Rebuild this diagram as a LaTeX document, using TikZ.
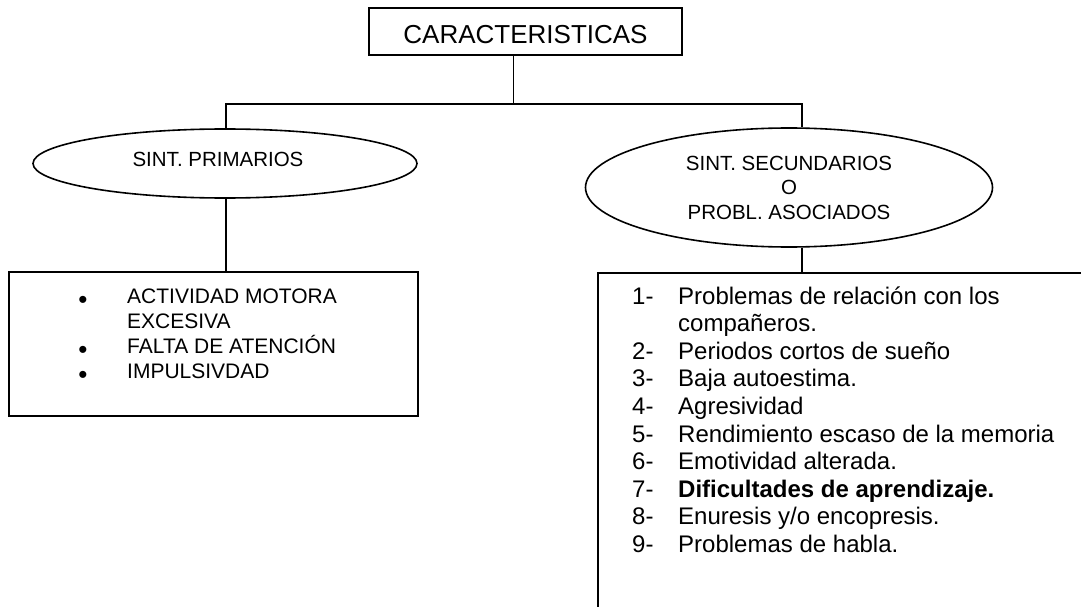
\documentclass[tikz,border=0pt]{standalone}
\usepackage{fontspec}
\setmainfont{Liberation Sans}
\usetikzlibrary{shapes.geometric}
\begin{document}
\begin{tikzpicture}[x=1pt,y=-1pt,
  line/.style={line width=1.6pt},
  box/.style={draw,line width=1.6pt,rectangle,inner sep=0pt},
  oval/.style={draw,line width=1.6pt,ellipse,inner sep=0pt},
  ovaltext/.style={font=\fontsize{20.5}{24.5}\selectfont},
  litem/.style={anchor=base west,inner sep=0pt,font=\fontsize{21}{24.5}\selectfont},
  lbullet/.style={anchor=base,inner sep=0pt,font=\fontsize{26}{26}\selectfont},
  ritem/.style={anchor=base west,inner sep=0pt,font=\fontsize{24}{27.6}\selectfont}]
\useasboundingbox (0,0) rectangle (1081,607);
\clip (0,0) rectangle (1081,607);
\fill[white] (0,0) rectangle (1081,607);

% title
\node[box,minimum width=313pt,minimum height=47pt,
      font=\fontsize{26}{30}\selectfont,text height=24pt,text depth=0pt]
  (title) at (525.5,31.5) {CARACTERISTICAS};

% ellipses
\node[oval,ovaltext,minimum width=384pt,minimum height=69pt,
      text height=14.7pt,text depth=9.7pt]
  (elL) at (225,163.5) {SINT. PRIMARIOS\hspace*{14pt}};
\node[oval,ovaltext,align=center,minimum width=407pt,minimum height=119pt]
  (elR) at (789,187.5) {SINT. SECUNDARIOS\\O\\PROBL. ASOCIADOS};

% boxes
\node[box,minimum width=409pt,minimum height=144pt] (boxL) at (213.5,344) {};
\node[box,anchor=north west,minimum width=600pt,minimum height=400pt] (boxR) at (597,272) {};

% junctions
\coordinate (jT) at (513.5,104);
\coordinate (jL) at (226,104);
\coordinate (jR) at (802,104);

% connectors
\draw[line] (jT |- title.south) -- (jT);
\draw[line] (jL |- elL.north) -- (jL) -- (jR) -- (jR |- elR.north);
\draw[line] (jL |- elL.south) -- (jL |- boxL.north);
\draw[line] (jR |- elR.south) -- (jR |- boxR.north);

% left list
\node[lbullet] (b1) at (83,308.5) {•};
\node[litem] (l1) at (127,303) {ACTIVIDAD MOTORA};
\node[litem] (l1b) at (127,328) {EXCESIVA};
\node[lbullet] (b2) at (83,358.5) {•};
\node[litem] (l2) at (127,353) {FALTA DE ATENCIÓN};
\node[lbullet] (b3) at (83,383.5) {•};
\node[litem] (l3) at (127,378) {IMPULSIVDAD};

% right list
\node[ritem] (n1) at (632,304) {1-};
\node[ritem] (t1) at (678,304) {Problemas de relación con los};
\node[ritem] (t1b) at (678,331.6) {compañeros.};
\foreach \k/\txt [count=\c] in {2/{Periodos cortos de sueño},
    3/{Baja autoestima.},
    4/{Agresividad},
    5/{Rendimiento escaso de la memoria},
    6/{Emotividad alterada.},
    7/{\bfseries Dificultades de aprendizaje.},
    8/{Enuresis y/o encopresis.},
    9/{Problemas de habla.}}{
  \node[ritem] (n\k) at (632,331.6+27.6*\c) {\k-};
  \node[ritem] (t\k) at (678,331.6+27.6*\c) {\txt};
}
\end{tikzpicture}
\end{document}
